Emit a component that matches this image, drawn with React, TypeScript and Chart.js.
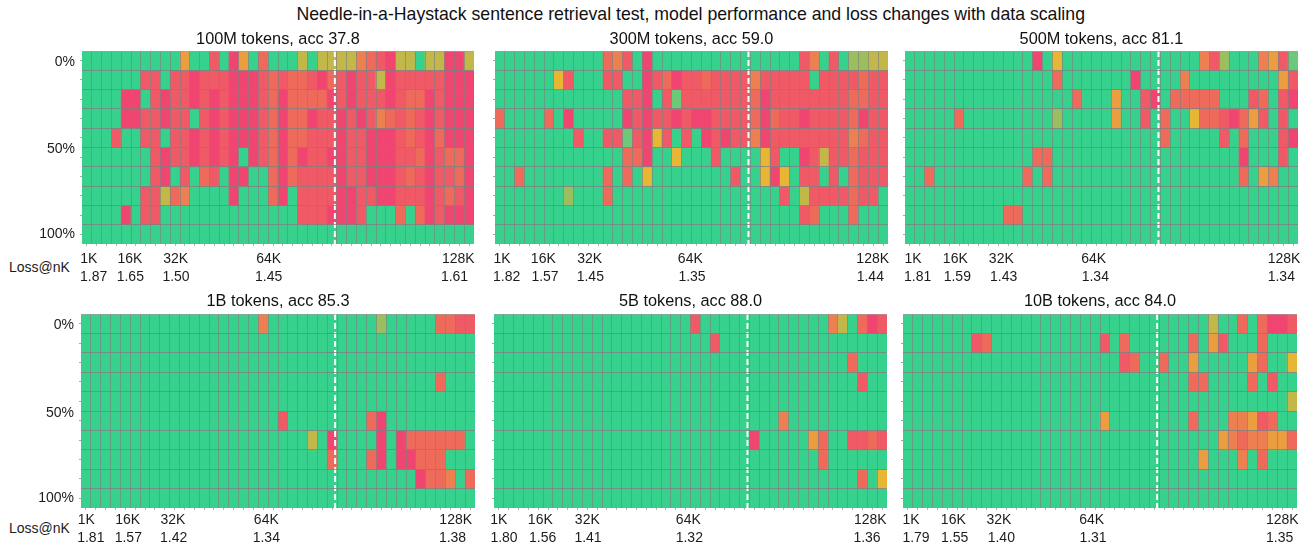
import React, { useEffect, useRef } from "react";
import { Chart, registerables } from "chart.js";

Chart.register(...registerables);

const mainTitle =
  "Needle-in-a-Haystack sentence retrieval test, model performance and loss changes with data scaling";
const panelTitles = [
  "100M tokens, acc 37.8",
  "300M tokens, acc 59.0",
  "500M tokens, acc 81.1",
  "1B tokens, acc 85.3",
  "5B tokens, acc 88.0",
  "10B tokens, acc 84.0",
];
const contextTicks = ["1K", "16K", "32K", "64K", "128K"];
const loss100M = ["1.87", "1.65", "1.50", "1.45", "1.61"];
const loss300M = ["1.82", "1.57", "1.45", "1.35", "1.44"];
const loss500M = ["1.81", "1.59", "1.43", "1.34", "1.34"];
const loss1B = ["1.81", "1.57", "1.42", "1.34", "1.38"];
const loss5B = ["1.80", "1.56", "1.41", "1.32", "1.36"];
const loss10B = ["1.79", "1.55", "1.40", "1.31", "1.35"];
const depthTicks = ["0%", "50%", "100%"];
const depthTickAt = [0.58, 5.1, 9.5];
const needleSplit = 25.8;

// One string per row, one digit per column: 0 = retrieved, higher = worse (see levelColors).
const Z = "0000000000";
const grid100M = [
  `${Z} 5008095070 0030333367 8933033993`,
  "0000008808 8988899987 8778978988 3988888999",
  "0000990898 8989899987 9777798988 8987798999",
  "0000998898 8089899987 9779889898 6787898999",
  "0008008808 8989899987 9778889889 9987897999",
  "0000000898 8989890987 9798899889 9988798779",
  "0000000890 8078099007 9788889889 9987898879",
  "0000008837 6000090007 9088889988 9988898789",
  `0000908800 ${Z} 0088899980 0070798999`,
  `${Z} ${Z} ${Z} ${Z}`,
];
const grid300M = [
  `${Z} 0768090000 ${Z} 0860802233`,
  "0000004800 0880098798 8788886888 8808888788",
  `${Z} 0008890818 8888887988 8888887788`,
  "7000070900 0009898898 9988887978 8988887988",
  "0000000080 0881894808 0989886988 8888886788",
  `${Z} 0007790040 0080000480 0983887888`,
  "0070000000 0707040000 0000800494 0880807888",
  "0000000200 0700000000 0000000008 0388887880",
  `${Z} ${Z} ${Z} 0870007000`,
  `${Z} ${Z} ${Z} ${Z}`,
];
const grid500M = [
  `${Z} 0009040000 ${Z} 6820006581`,
  `${Z} 0000070000 0009000060 0000000058`,
  `${Z} 0000000700 0500890777 7700087089`,
  "0000070000 0000020000 0500807004 7789758080",
  `${Z} ${Z} 0000007000 0080700089`,
  `${Z} 0007700000 ${Z} 0000900080`,
  `0070000000 0070700000 ${Z} 0000705600`,
  `${Z} ${Z} ${Z} ${Z}`,
  `${Z} 7700000000 ${Z} ${Z}`,
  `${Z} ${Z} ${Z} ${Z}`,
];
const grid1B = [
  `${Z} 0000000060 ${Z} 2000007788`,
  `${Z} ${Z} ${Z} ${Z}`,
  `${Z} ${Z} ${Z} ${Z}`,
  `${Z} ${Z} ${Z} 0000007000`,
  `${Z} ${Z} ${Z} ${Z}`,
  `${Z} ${Z} 8000000007 9000000000`,
  `${Z} ${Z} 0003090000 9097777770`,
  `${Z} ${Z} 0000070007 9099777000`,
  `${Z} ${Z} ${Z} 0000977607`,
  `${Z} ${Z} ${Z} ${Z}`,
];
const grid5B = [
  `${Z} ${Z} 8000000000 0000630798`,
  `${Z} ${Z} 0080000000 ${Z}`,
  `${Z} ${Z} ${Z} 0000007000`,
  `${Z} ${Z} ${Z} 0000000800`,
  `${Z} ${Z} ${Z} ${Z}`,
  `${Z} ${Z} 0000000006 ${Z}`,
  `${Z} ${Z} 0000009000 0057008878`,
  `${Z} ${Z} ${Z} 0007000000`,
  `${Z} ${Z} ${Z} 0000000704`,
  `${Z} ${Z} ${Z} ${Z}`,
];
const grid10B = [
  `${Z} ${Z} ${Z} 0300707998`,
  `0000000870 ${Z} 8070000007 0580007000`,
  `${Z} ${Z} 0087007005 0000057004`,
  `${Z} ${Z} 0000000007 7000070800`,
  `${Z} ${Z} ${Z} 0000000003`,
  `${Z} ${Z} 5000000007 0006658700`,
  `${Z} ${Z} ${Z} 0056766557`,
  `${Z} ${Z} ${Z} 5000607000`,
  `${Z} ${Z} ${Z} ${Z}`,
  `${Z} ${Z} ${Z} ${Z}`,
];

const levelColors = [
  "#36d18d",
  "#6cc97a",
  "#9dbe5f",
  "#c2b84a",
  "#e8b635",
  "#eb9e40",
  "#ec8050",
  "#ee6a5a",
  "#f05a66",
  "#ef4570",
];

const FONT = "'Liberation Sans', Arial, sans-serif";
const COLS = 40;
const ROWS = 10;
const TITLE_H = 23;

// Layout of each panel: plot box, and where the tick texts sit (page px).
const layouts = [
  { g: grid100M, loss: loss100M, l: 82, t: 51, w: 392, h: 193, yw: 82, pk: 5, pl: 4, hl: 24, tt: 2, tb: 1,
    kx: [88.7, 130, 175.7, 268.7, 458.3], lx: [93.7, 130.3, 176, 268.7, 454.5] },
  { g: grid300M, loss: loss300M, l: 495, t: 51, w: 393, h: 193, yw: 8, pk: 5, pl: 4, hl: 24, tt: 2, tb: 1,
    kx: [502, 543.3, 589.7, 690.3, 872.7], lx: [506.7, 545, 590.3, 692, 870.3] },
  { g: grid500M, loss: loss500M, l: 905, t: 51, w: 393, h: 193, yw: 8, pk: 5, pl: 4, hl: 24, tt: 2, tb: 1,
    kx: [913, 955.3, 1001.3, 1093.7, 1284], lx: [917.7, 957.3, 1003.7, 1095.3, 1281.3] },
  { g: grid1B, loss: loss1B, l: 81, t: 314, w: 394, h: 194, yw: 81, pk: 2, pl: 1, hl: 16, tt: 1, tb: 2,
    kx: [86.3, 127.7, 173, 266.3, 455.7], lx: [90.8, 128.3, 173.7, 266.3, 452.5] },
  { g: grid5B, loss: loss5B, l: 494, t: 314, w: 393, h: 194, yw: 8, pk: 2, pl: 1, hl: 16, tt: 1, tb: 2,
    kx: [498.7, 540.3, 587.3, 688.3, 870.3], lx: [504, 542.7, 588, 689.3, 867] },
  { g: grid10B, loss: loss10B, l: 903, t: 314, w: 394, h: 194, yw: 8, pk: 2, pl: 1, hl: 16, tt: 1, tb: 2,
    kx: [911, 953.3, 999, 1091.7, 1282.3], lx: [916, 954.7, 1001.3, 1093, 1279.7] },
];
const RIGHT = 6;
const MARK_H = 2;
const MARK_W = 2;
const KEY_H = 19;

function fixHeight(h: number) {
  return (s: any) => {
    s.height = h;
    s.paddingLeft = 0;
    s.paddingRight = 0;
  };
}

function textAxis(values: number[], labels: string[], weight: number, pad: number, h: number) {
  return {
    type: "linear",
    position: "bottom",
    min: 0,
    max: COLS,
    offset: false,
    weight,
    afterBuildTicks: (s: any) => {
      s.ticks = values.map((value) => ({ value }));
    },
    afterFit: fixHeight(h),
    border: { display: false },
    grid: { display: false, drawTicks: false, drawOnChartArea: false },
    ticks: {
      autoSkip: false,
      maxRotation: 0,
      minRotation: 0,
      padding: pad,
      color: "#1c1c1c",
      font: { family: FONT, size: 14 },
      callback: (_: any, i: number) => labels[i],
    },
  };
}

function buildConfig(p: any, index: number) {
  const colW = p.w / COLS;
  const datasets: any[] = p.g.map((row: string, r: number) => {
    const levels = row.replace(/ /g, "").split("").map(Number);
    return {
      type: "bar",
      grouped: false,
      barPercentage: 1,
      categoryPercentage: 1,
      borderWidth: 0,
      order: 2,
      data: levels.map((_: number, c: number) => ({ x: c + 0.5, y: [r, r + 1] })),
      backgroundColor: levels.map((v: number) => levelColors[v]),
    };
  });
  datasets.push({
    type: "line",
    order: 1,
    data: [
      { x: needleSplit, y: 0 },
      { x: needleSplit, y: ROWS },
    ],
    borderColor: "#ffffff",
    borderWidth: 2,
    borderDash: [6, 3],
    pointRadius: 0,
  });
  const showDepth = p.yw > 20;
  const scales: any = {
    x: {
      type: "linear",
      position: "bottom",
      min: 0,
      max: COLS,
      offset: false,
      weight: 0,
      afterBuildTicks: (s: any) => {
        s.ticks = Array.from({ length: COLS + 1 }, (_, value) => ({ value }));
      },
      afterFit: fixHeight(0),
      border: { display: false },
      grid: {
        z: 1,
        offset: false,
        drawTicks: false,
        lineWidth: 1,
        color: (c: any) =>
          c.tick && (c.tick.value === 0 || c.tick.value === COLS)
            ? "rgba(0,0,0,0)"
            : "rgba(128,128,128,0.65)",
      },
      ticks: { display: false, autoSkip: false },
    },
    xMarks: {
      type: "linear",
      position: "bottom",
      min: 0,
      max: COLS,
      offset: false,
      weight: 1,
      afterBuildTicks: (s: any) => {
        s.ticks = Array.from({ length: COLS }, (_, i) => ({ value: i + 0.5 }));
      },
      afterFit: fixHeight(MARK_H),
      border: { display: false },
      grid: {
        drawOnChartArea: false,
        drawTicks: true,
        tickLength: MARK_H,
        tickColor: "rgba(130,130,130,0.6)",
      },
      ticks: { display: false, autoSkip: false },
    },
    xKeys: textAxis(p.kx.map((px: number) => (px - p.l) / colW), contextTicks, 2, p.pk, KEY_H),
    xLoss: textAxis(p.lx.map((px: number) => (px - p.l) / colW), p.loss, 3, p.pl, p.hl),
    y: {
      type: "linear",
      position: "left",
      reverse: true,
      min: 0,
      max: ROWS,
      weight: 0,
      afterBuildTicks: (s: any) => {
        s.ticks = Array.from({ length: ROWS + 1 }, (_, value) => ({ value }));
      },
      afterFit: (s: any) => {
        s.width = 0;
      },
      border: { display: false },
      grid: {
        z: 1,
        drawTicks: false,
        lineWidth: 1,
        color: (c: any) => {
          if (!c.tick) return "rgba(0,0,0,0)";
          if (c.tick.value === ROWS) return "rgba(0,0,0,0)";
          if (c.tick.value === 0) return "rgba(150,150,150,0.6)";
          return "rgba(128,128,128,0.8)";
        },
      },
      ticks: { display: false, autoSkip: false },
    },
    yMarks: {
      type: "linear",
      position: "left",
      reverse: true,
      min: 0,
      max: ROWS,
      weight: 1,
      afterBuildTicks: (s: any) => {
        s.ticks = Array.from({ length: ROWS }, (_, i) => ({ value: i + 0.5 }));
      },
      afterFit: (s: any) => {
        s.width = showDepth ? MARK_W : p.yw;
      },
      border: { display: false },
      grid: {
        drawOnChartArea: false,
        drawTicks: true,
        tickLength: MARK_W,
        tickColor: "rgba(130,130,130,0.7)",
      },
      ticks: { display: false, autoSkip: false },
    },
  };
  if (showDepth) {
    scales.yDepth = {
      type: "linear",
      position: "left",
      reverse: true,
      min: 0,
      max: ROWS,
      weight: 2,
      afterBuildTicks: (s: any) => {
        s.ticks = depthTickAt.map((value) => ({ value }));
      },
      afterFit: (s: any) => {
        s.width = p.yw - MARK_W;
      },
      border: { display: false },
      grid: { display: false, drawTicks: false, drawOnChartArea: false },
      ticks: {
        autoSkip: false,
        padding: 5,
        color: "#1c1c1c",
        font: { family: FONT, size: 14 },
        callback: (_: number, i: number) => depthTicks[i],
      },
    };
  }
  return {
    data: { datasets },
    options: {
      animation: false,
      responsive: false,
      maintainAspectRatio: false,
      layout: { padding: { left: 0, right: RIGHT, top: 0, bottom: 0 } },
      plugins: {
        legend: { display: false },
        tooltip: { enabled: false },
        title: {
          display: true,
          fullSize: false,
          text: panelTitles[index],
          color: "#111111",
          font: { family: FONT, size: 16.3, weight: "normal", lineHeight: "20px" },
          padding: { top: p.tt, bottom: p.tb },
        },
      },
      scales,
    },
  };
}

const textStyle: React.CSSProperties = {
  position: "absolute",
  fontFamily: FONT,
  whiteSpace: "nowrap",
  color: "#111111",
};

export default function App() {
  const refs = useRef<(HTMLCanvasElement | null)[]>([]);
  useEffect(() => {
    const charts = layouts.map((p, i) => new Chart(refs.current[i]!, buildConfig(p, i) as any));
    return () => charts.forEach((c) => c.destroy());
  }, []);
  return (
    <div
      style={{
        position: "absolute",
        left: 0,
        top: 0,
        width: 1304,
        height: 545,
        overflow: "hidden",
        background: "#ffffff",
        filter: "blur(0.3px)",
      }}
    >
      <div style={{ ...textStyle, left: 296.5, top: 4, fontSize: 17.7, lineHeight: "20px" }}>{mainTitle}</div>
      <div style={{ ...textStyle, left: 9, top: 258, fontSize: 14, lineHeight: "18px", color: "#1c1c1c" }}>Loss@nK</div>
      <div style={{ ...textStyle, left: 9, top: 519, fontSize: 14, lineHeight: "18px", color: "#1c1c1c" }}>Loss@nK</div>
      {layouts.map((p, i) => {
        const w = p.yw + p.w + RIGHT;
        const h = TITLE_H + p.h + MARK_H + KEY_H + p.hl;
        return (
          <canvas
            key={i}
            ref={(el) => {
              refs.current[i] = el;
            }}
            width={w}
            height={h}
            style={{
              position: "absolute",
              left: p.l - p.yw,
              top: p.t - TITLE_H,
              width: w,
              height: h,
            }}
          />
        );
      })}
    </div>
  );
}
